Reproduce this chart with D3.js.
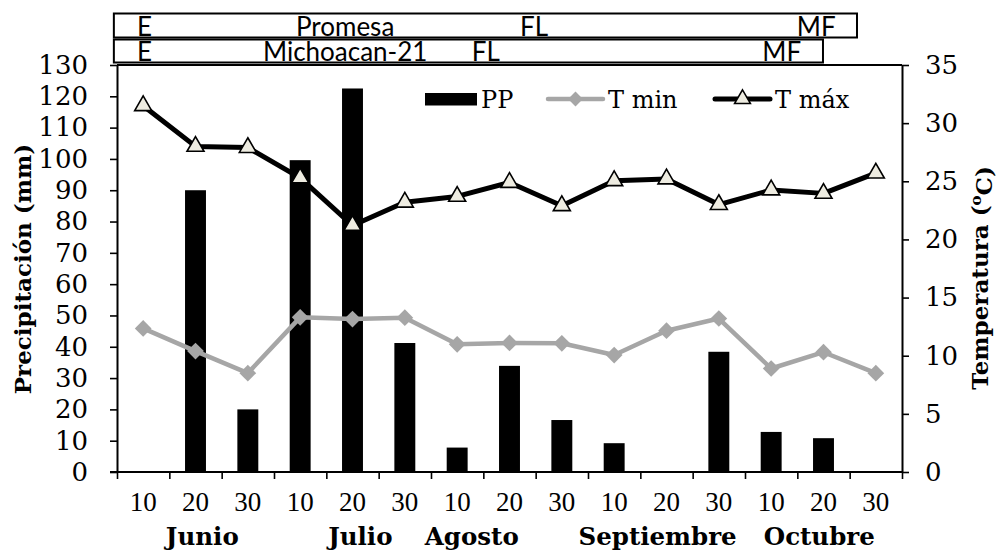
<!DOCTYPE html>
<html>
<head>
<meta charset="utf-8">
<script src="https://cdn.jsdelivr.net/npm/d3@7"></script>
<style>
  html, body { margin: 0; padding: 0; background: #fff; }
  svg { display: block; }
</style>
</head>
<body>
<svg id="chart" width="998" height="550"></svg>
<script>
// ---------------- DATA ----------------
const categories = ["10","20","30","10","20","30","10","20","30","10","20","30","10","20","30"];
const months = ["Junio","Julio","Agosto","Septiembre","Octubre"];
const pp   = [0, 90, 20, 99.6, 122.5, 41.2, 7.8, 33.9, 16.6, 9.2, 0, 38.4, 12.8, 10.8, 0];
const tmin = [12.35, 10.4, 8.5, 13.3, 13.15, 13.27, 10.98, 11.1, 11.07, 10.06, 12.15, 13.2, 8.9, 10.3, 8.5];
const tmax = [31.5, 28.0, 27.9, 25.3, 21.2, 23.2, 23.7, 24.9, 22.9, 25.05, 25.2, 23.0, 24.25, 23.96, 25.7];
const leftTicks  = [0,10,20,30,40,50,60,70,80,90,100,110,120,130];
const rightTicks = [0,5,10,15,20,25,30,35];
const seriesNames = ["PP", "T min", "T máx"];
const varieties = ["Promesa", "Michoacan-21"];
const stageNames = ["E", "FL", "MF"];
// phenological stage timing (in ten-day periods from start)
const stageTimes = [[0.38, 7.7, 12.99], [0.38, 6.78, 12.33]];
const varietyLabelTime = [3.42, 2.79];
const cycleEnd = [14.14, 13.49];

// ---------------- LAYOUT ----------------
const L = 117, R = 902, T = 65, B = 472;
const monthPos = [1.13, 4.15, 6.28, 9.83, 12.92]; // label centres in category units

const svg = d3.select("#chart");
const x = d3.scaleBand().domain(d3.range(categories.length)).range([L, R]).padding(0);
const xc = d3.scaleLinear().domain([0, categories.length]).range([L, R]);
const yL = d3.scaleLinear().domain([0, 130]).range([B, T]);
const yR = d3.scaleLinear().domain([0, 35]).range([B, T]);
const bw = x.bandwidth();

// bars
svg.append("g").selectAll("rect").data(pp).join("rect")
  .attr("x", (d, i) => x(i) + bw * 0.3)
  .attr("width", bw * 0.4)
  .attr("y", d => yL(d))
  .attr("height", d => B - yL(d))
  .attr("fill", "#000");

// frame
svg.append("line").attr("x1", L).attr("x2", R).attr("y1", T).attr("y2", T).attr("stroke", "#000").attr("stroke-width", 2);

// left axis
const gl = svg.append("g").attr("transform", `translate(${L},0)`)
  .call(d3.axisLeft(yL).tickValues(leftTicks).tickSize(7).tickSizeOuter(0).tickPadding(22));
gl.select(".domain").attr("stroke-width", 2);
gl.selectAll(".tick line").attr("stroke-width", 1.6);
gl.selectAll(".tick text").attr("font-family", "DejaVu Serif").attr("font-size", 26).attr("fill", "#000");

// right axis
const gr = svg.append("g").attr("transform", `translate(${R},0)`)
  .call(d3.axisRight(yR).tickValues(rightTicks).tickSize(7).tickSizeOuter(0).tickPadding(16));
gr.select(".domain").attr("stroke-width", 2);
gr.selectAll(".tick line").attr("stroke-width", 1.6);
gr.selectAll(".tick text").attr("font-family", "DejaVu Serif").attr("font-size", 26).attr("fill", "#000");

// bottom axis: boundary ticks
const gb = svg.append("g").attr("transform", `translate(0,${B})`)
  .call(d3.axisBottom(xc).tickValues(d3.range(categories.length + 1)).tickSize(7).tickSizeOuter(0).tickFormat(""));
gb.select(".domain").attr("stroke-width", 2).attr("d", `M${L - 7},0H${R}`);
gb.selectAll(".tick line").attr("stroke-width", 1.6);

// category labels
const gc = svg.append("g").attr("transform", `translate(0,${B})`)
  .call(d3.axisBottom(x).tickFormat(i => categories[i]).tickSize(0).tickPadding(31));
gc.select(".domain").remove();
gc.selectAll(".tick text").attr("font-family", "Liberation Serif").attr("font-size", 27).attr("fill", "#000").attr("dy", "0.3em");

// month labels
svg.append("g").selectAll("text").data(months).join("text")
  .attr("x", (d, i) => xc(monthPos[i] + 0.5))
  .attr("y", 545)
  .attr("text-anchor", "middle")
  .attr("font-family", "DejaVu Serif").attr("font-weight", "bold").attr("font-size", 24.5)
  .text(d => d);

// axis titles
svg.append("text")
  .attr("transform", `translate(31,269) rotate(-90)`)
  .attr("text-anchor", "middle")
  .attr("font-family", "DejaVu Serif").attr("font-weight", "bold").attr("font-size", 23)
  .text("Precipitación (mm)");
const tt = svg.append("text")
  .attr("transform", `translate(988,278) rotate(-90)`)
  .attr("text-anchor", "middle")
  .attr("font-family", "DejaVu Serif").attr("font-weight", "bold").attr("font-size", 23);
tt.append("tspan").text("Temperatura (");
tt.append("tspan").attr("dy", "-0.45em").attr("font-size", 15).text("o");
tt.append("tspan").attr("dy", "0.45em").text("C)");

// lines
const cx = i => x(i) + bw / 2;
const lineT = d3.line().x((d, i) => cx(i)).y(d => yR(d));
svg.append("path").datum(tmin).attr("d", lineT).attr("fill", "none").attr("stroke", "#a6a6a6").attr("stroke-width", 4.5).attr("stroke-linejoin", "round");
svg.append("path").datum(tmax).attr("d", lineT).attr("fill", "none").attr("stroke", "#000").attr("stroke-width", 5).attr("stroke-linejoin", "round");

const diamond = d3.symbol().type(d3.symbolSquare).size(140);
const tri = d3.symbol().type(d3.symbolTriangle).size(125);
svg.append("g").selectAll("path").data(tmin).join("path")
  .attr("d", diamond)
  .attr("transform", (d, i) => `translate(${cx(i)},${yR(d)}) rotate(45)`)
  .attr("fill", "#a6a6a6");
svg.append("g").selectAll("path").data(tmax).join("path")
  .attr("d", tri)
  .attr("transform", (d, i) => `translate(${cx(i)},${yR(d)})`)
  .attr("fill", "#eeece1").attr("stroke", "#000").attr("stroke-width", 1.6);

// legend
const lg = svg.append("g");
lg.append("rect").attr("x", 425).attr("y", 93).attr("width", 52).attr("height", 12.5).attr("fill", "#000");
lg.append("text").attr("x", 481).attr("y", 107.5).attr("font-family", "DejaVu Serif").attr("font-size", 24).text(seriesNames[0]);
lg.append("line").attr("x1", 548).attr("x2", 603).attr("y1", 99).attr("y2", 99).attr("stroke", "#a6a6a6").attr("stroke-width", 4.5).attr("stroke-linecap", "round");
lg.append("path").attr("d", d3.symbol().type(d3.symbolSquare).size(110)).attr("transform", "translate(575.5,99) rotate(45)").attr("fill", "#a6a6a6");
lg.append("text").attr("x", 608).attr("y", 107.5).attr("font-family", "DejaVu Serif").attr("font-size", 24).text(seriesNames[1]);
lg.append("line").attr("x1", 715).attr("x2", 770).attr("y1", 99).attr("y2", 99).attr("stroke", "#000").attr("stroke-width", 5).attr("stroke-linecap", "round");
lg.append("path").attr("d", d3.symbol().type(d3.symbolTriangle).size(110)).attr("transform", "translate(742.5,99)").attr("fill", "#eeece1").attr("stroke", "#000").attr("stroke-width", 1.5);
lg.append("text").attr("x", 775).attr("y", 107.5).attr("font-family", "DejaVu Serif").attr("font-size", 24).text(seriesNames[2]);

// phenology boxes
const rows = [{top: 13.5, bottom: 37.5, base: 36}, {top: 39.5, bottom: 62.5, base: 60.5}];
varieties.forEach((v, r) => {
  const g = svg.append("g");
  const x0 = xc(-0.06), x1 = xc(cycleEnd[r]);
  g.append("rect").attr("x", x0).attr("y", rows[r].top).attr("width", x1 - x0).attr("height", rows[r].bottom - rows[r].top)
    .attr("fill", "#fff").attr("stroke", "#000").attr("stroke-width", 2);
  const labels = [{t: stageNames[0], p: stageTimes[r][0]}, {t: v, p: varietyLabelTime[r]},
                  {t: stageNames[1], p: stageTimes[r][1]}, {t: stageNames[2], p: stageTimes[r][2]}];
  g.selectAll("text").data(labels).join("text")
    .attr("x", d => xc(d.p)).attr("y", rows[r].base)
    .attr("font-family", "Lato").attr("font-size", 26)
    .text(d => d.t);
});
</script>
</body>
</html>
